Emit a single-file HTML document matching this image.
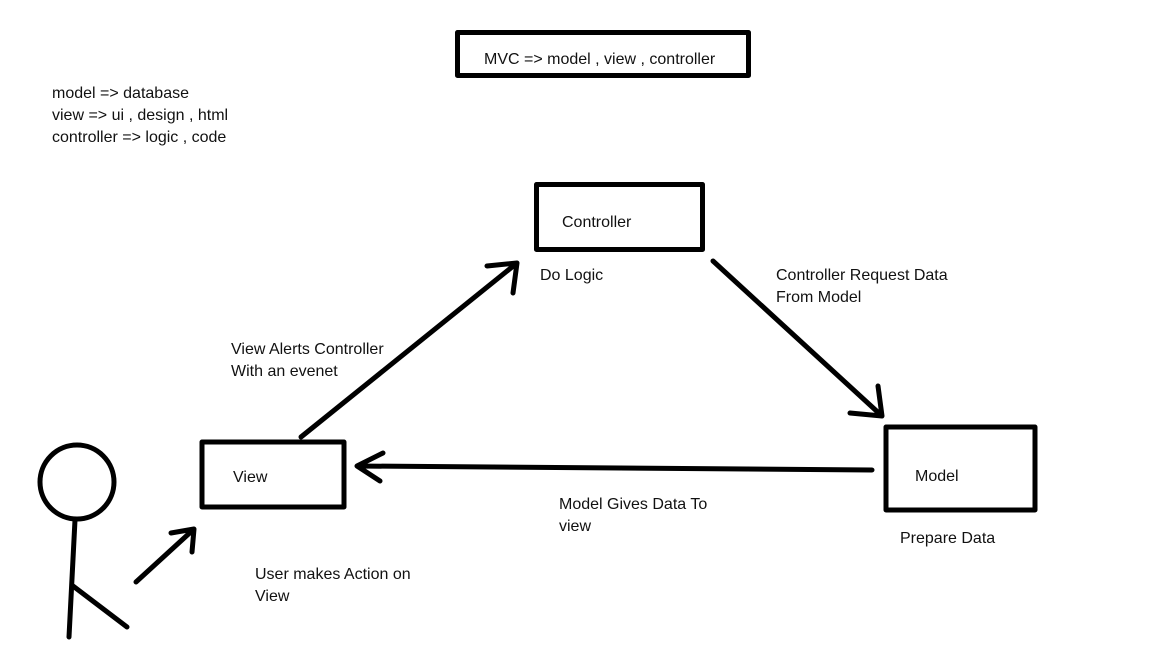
<!DOCTYPE html>
<html><head><meta charset="utf-8"><style>
html,body{margin:0;padding:0;background:#fff;width:1152px;height:648px;overflow:hidden}
svg{display:block}
text{font-family:"Liberation Sans",sans-serif;font-size:16px;fill:#111}
</style></head><body>
<svg width="1152" height="648" viewBox="0 0 1152 648" xmlns="http://www.w3.org/2000/svg">
<g fill="none" stroke="#000" stroke-width="5" stroke-linecap="round" stroke-linejoin="round">
<rect x="457.5" y="32.5" width="291" height="43" stroke-linecap="butt"/>
<rect x="536.5" y="184.5" width="166" height="65"/>
<rect x="202" y="442" width="142" height="65"/>
<rect x="886" y="427" width="149" height="83"/>
<circle cx="77" cy="482" r="37"/>
<path d="M75 520 L69 637"/>
<path d="M73 586 L127 627"/>
<path d="M136 582 L194 529 M171 533 L194 529 L192 552"/>
<path d="M301 437 L517 263 M487 266 L517 263 L513 293"/>
<path d="M713 261 L882 416 M878 386 L882 416 L850 413"/>
<path d="M872 470 L357 466 M383 453 L357 466 L380 481"/>
</g>
<text x="484" y="64">MVC =&gt; model , view , controller</text>
<text x="52" y="98">model =&gt; database</text>
<text x="52" y="120">view =&gt; ui , design , html</text>
<text x="52" y="142">controller =&gt; logic , code</text>
<text x="562" y="227">Controller</text>
<text x="540" y="280">Do Logic</text>
<text x="776" y="280">Controller Request Data</text>
<text x="776" y="302">From Model</text>
<text x="231" y="354">View Alerts Controller</text>
<text x="231" y="376">With an evenet</text>
<text x="233" y="482">View</text>
<text x="915" y="481">Model</text>
<text x="559" y="509">Model Gives Data To</text>
<text x="559" y="531">view</text>
<text x="900" y="543">Prepare Data</text>
<text x="255" y="579">User makes Action on</text>
<text x="255" y="601">View</text>
</svg>
</body></html>
